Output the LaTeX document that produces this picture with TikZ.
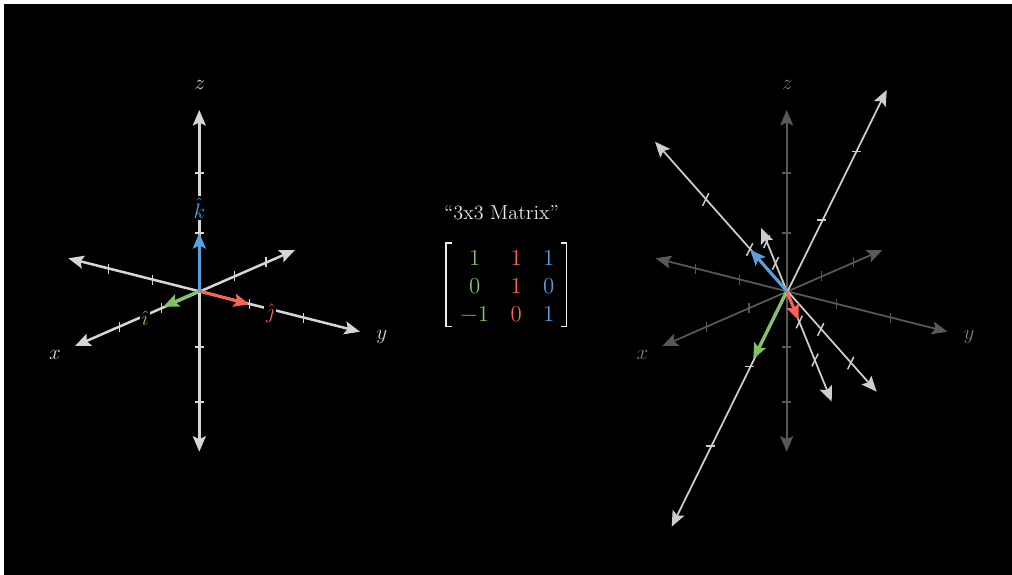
\documentclass[tikz,border=0pt]{standalone}
\usetikzlibrary{arrows.meta,matrix}
\definecolor{axiscol}{RGB}{214,214,214}
\definecolor{fadecol}{RGB}{88,88,88}
\definecolor{fadelbl}{RGB}{125,125,125}
\definecolor{imgcol}{RGB}{205,205,205}
\definecolor{xcol}{RGB}{131,193,103}
\definecolor{ycol}{RGB}{252,98,85}
\definecolor{zcol}{RGB}{88,160,222}
\definecolor{textcol}{RGB}{236,236,236}
\begin{document}
\begin{tikzpicture}[x=0.02cm, y=-0.02cm,
	>={Stealth[length=0.31cm,width=0.26cm,inset=0.06cm]},
	axis/.style={ draw=axiscol, line width=0.05cm, <-> },
	faded/.style={ draw=fadecol, line width=0.035cm, <-> },
	image/.style={ draw=imgcol, line width=0.035cm, <-> },
	tick/.style={ draw=axiscol, line width=0.03cm },
	basis/.style={ line width=0.06cm, -> },
	lbl/.style={ text=axiscol, fill=black, inner sep=1pt, font=\large }
]

\fill[white] (0,0) rectangle (1012,575);
\fill[black] (4,4) rectangle (1012,575);

% left: standard basis
\begin{scope}[shift={(199.3,291)}]
\coordinate (o1) at (0,0);
\coordinate (x1a) at (-124.3,55);
\coordinate (x1b) at (95.7,-41);
\coordinate (y1a) at (160.7,40.7);
\coordinate (y1b) at (-131,-32.7);
\coordinate (z1a) at (0,-181);
\coordinate (z1b) at (0,160.7);
\draw[axis] (x1b) -- (x1a);
\draw[axis] (y1b) -- (y1a);
\draw[axis] (z1b) -- (z1a);
\draw[tick] (-80,31.3) -- ++(0,10) (-37.6,12.3) -- ++(0,10) (35,-20.3) -- ++(0,10) (66.7,-34.3) -- ++(0,10)
  (-91,-27) -- ++(0,10) (-47,-16) -- ++(0,10) (50,8.3) -- ++(0,10) (104,22.3) -- ++(0,10);
\draw[tick] (-4.5,-118) -- ++(9,0) (-4.5,-58) -- ++(9,0) (-4.5,56) -- ++(9,0) (-4.5,111) -- ++(9,0);
\node at (-144.3,64) (xl1) [lbl] {$x$};
\node at (182.4,45.7) (yl1) [lbl] {$y$};
\node at (0.7,-206) (zl1) [lbl] {$z$};
\node at (-54.3,27.3) (il1) [lbl,text=xcol] {$\hat{\imath}$};
\node at (70.7,22.3) (jl1) [lbl,text=ycol] {$\hat{\jmath}$};
\node at (0,-82.7) (kl1) [lbl,text=zcol] {$\hat{k}$};
\coordinate (ihat) at (-36,15.7);
\coordinate (jhat) at (50,13.3);
\coordinate (khat) at (0,-58);
\draw[basis,xcol] (o1) -- (ihat);
\draw[basis,ycol] (o1) -- (jhat);
\draw[basis,zcol] (o1) -- (khat);
\end{scope}

% middle: the matrix
\node at (501.5,213) (title) [text=textcol, font=\fontsize{11.5}{14}\selectfont] {“3x3 Matrix”};
\matrix (M) at (507.4,286) [matrix of nodes, column sep=0.43cm, row sep=7.5pt,
  nodes={inner sep=0pt, text height=8.4pt, text depth=0pt, font=\fontsize{13}{15}\selectfont},
  column 1/.style={nodes={text=xcol}},
  column 2/.style={nodes={text=ycol}},
  column 3/.style={nodes={text=zcol}}]
{ 1 & 1 & 1 \\
  0 & 1 & 0 \\
  −1 & 0 & 1 \\ };
\draw[textcol, line width=0.03cm] (451.5,243) -| (446,326.7) -- (451.5,326.7);
\draw[textcol, line width=0.03cm] (561.2,243) -| (566.7,326.7) -- (561.2,326.7);

% right: transformed basis
\begin{scope}[shift={(786.7,291)}]
\coordinate (o2) at (0,0);
\coordinate (x2a) at (-124.3,55);
\coordinate (x2b) at (95.7,-41);
\coordinate (y2a) at (160.7,40.7);
\coordinate (y2b) at (-131,-32.7);
\coordinate (z2a) at (0,-181);
\coordinate (z2b) at (0,160.7);
\draw[faded] (x2b) -- (x2a);
\draw[faded] (y2b) -- (y2a);
\draw[faded] (z2b) -- (z2a);
\draw[tick,fadecol] (-80,31.3) -- ++(0,10) (-37.6,12.3) -- ++(0,10) (35,-20.3) -- ++(0,10) (66.7,-34.3) -- ++(0,10)
  (-91,-27) -- ++(0,10) (-47,-16) -- ++(0,10) (50,8.3) -- ++(0,10) (104,22.3) -- ++(0,10);
\draw[tick,fadecol] (-4.5,-118) -- ++(9,0) (-4.5,-58) -- ++(9,0) (-4.5,56) -- ++(9,0) (-4.5,111) -- ++(9,0);
\node at (-144.3,64) (xl2) [lbl,text=fadelbl] {$x$};
\node at (182.4,45.7) (yl2) [lbl,text=fadelbl] {$y$};
\node at (0.7,-206) (zl2) [lbl,text=fadelbl] {$z$};
\coordinate (xia) at (-115,235.7);
\coordinate (xib) at (100,-201);
\coordinate (yia) at (45,110.7);
\coordinate (yib) at (-25.5,-63);
\coordinate (zia) at (-131.7,-149.3);
\coordinate (zib) at (90,100.7);
\draw[image] (xib) -- (xia);
\draw[image] (yib) -- (yia);
\draw[image] (zib) -- (zia);
\draw[tick,imgcol] (-81.2,155) -- ++(9,0) (-41.9,75.7) -- ++(9,0) (30.5,-71) -- ++(9,0) (64.8,-139.3) -- ++(9,0);
\draw[tick,imgcol] (9.5,37.3) -- ++(6.2,-12.6) (25.2,75.3) -- ++(6.2,-12.6) (-14.3,-21.4) -- ++(6.2,-12.6) (-23.1,-43) -- ++(6.2,-12.6)
  (-40.1,-35.3) -- ++(6.2,-12.6) (-84.1,-85.2) -- ++(6.2,-12.6) (30.9,44.8) -- ++(6.2,-12.6) (60.9,78.3) -- ++(6.2,-12.6);
\coordinate (ihat2) at (-33.4,68);
\coordinate (jhat2) at (11.8,29);
\coordinate (khat2) at (-36.5,-41.3);
\draw[basis,xcol] (o2) -- (ihat2);
\draw[basis,ycol] (o2) -- (jhat2);
\draw[basis,zcol] (o2) -- (khat2);
\end{scope}

\end{tikzpicture}
\end{document}
